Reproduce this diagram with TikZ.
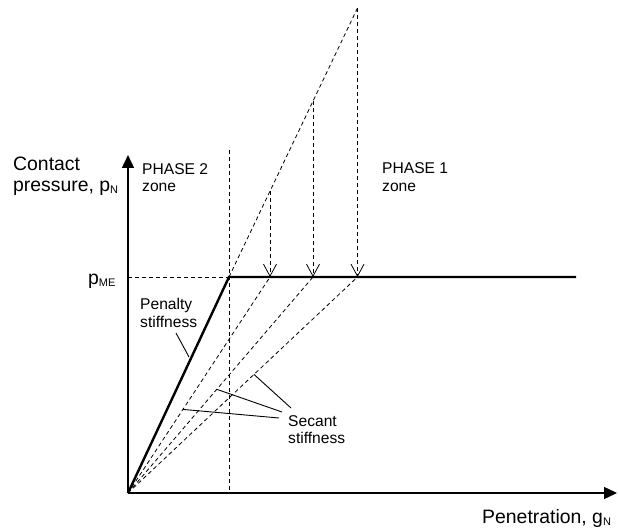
\documentclass[tikz,border=0pt]{standalone}
\usepackage{fontspec}
\setmainfont{Liberation Sans}
\usetikzlibrary{arrows.meta,calc}
\newcommand{\sbs}[1]{\raisebox{-2pt}{\fontsize{11}{11}\selectfont #1}}
\tikzset{
  lbl/.style={font=\fontsize{15.6}{18}\selectfont, inner sep=0pt, anchor=base west},
  axlbl/.style={font=\fontsize{19.4}{22}\selectfont, inner sep=0pt, anchor=base west},
  axis/.style={line width=1.4pt, -{Triangle[length=13pt,width=12pt]}},
  curve/.style={line width=2.4pt, line join=miter},
  dashline/.style={line width=0.8pt, dash pattern=on 4pt off 3pt},
  droparrow/.style={dashline, -{Straight Barb[length=12pt,width=13pt,line width=0.8pt]}},
  leader/.style={line width=0.9pt},
}
\begin{document}
\begin{tikzpicture}[x=1pt,y=-1pt]
\useasboundingbox (0,0) rectangle (618,529);
% key points
\coordinate (O) at (128,493);
\coordinate (ytop) at (128,155);
\coordinate (xend) at (617,493);
\coordinate (K) at (229,277);
\coordinate (pme) at (128,277);
\coordinate (plend) at (576,277);
\coordinate (vtop) at (229,150);
\coordinate (vbot) at (229,493);
\coordinate (t1) at (270,191);
\coordinate (t2) at (313,101);
\coordinate (t3) at (357.5,8);
\coordinate (s1) at (270,277);
\coordinate (s2) at (313,277);
\coordinate (s3) at (357.5,277);
% dashed construction lines
\draw[dashline] (pme) -- (K);
\draw[dashline] (vtop) -- (vbot);
\draw[dashline] (K) -- (t3);
\draw[dashline] (O) -- (s1);
\draw[dashline] (O) -- (s2);
\draw[dashline] (O) -- (s3);
\draw[droparrow] (t1) -- (s1);
\draw[droparrow] (t2) -- (s2);
\draw[droparrow] (t3) -- (s3);
% material curve
\draw[curve] (O) -- (K) -- (plend);
% axes
\draw[axis] (O) -- (ytop);
\draw[axis] (O) -- (xend);
% labels
\node[axlbl] (cont1) at (13,171) {Contact};
\node[axlbl] (cont2) at (13,192) {pressure, p\sbs{N}};
\node[axlbl] (pmelbl) at (88,284) {p\sbs{ME}};
\node[lbl] (ph2a) at (142,175) {PHASE 2};
\node[lbl] (ph2b) at (142,192) {zone};
\node[lbl] (ph1a) at (382,174) {PHASE 1};
\node[lbl] (ph1b) at (382,192) {zone};
\node[lbl] (pen1) at (140,309) {Penalty};
\node[lbl] (pen2) at (140,327) {stiffness};
\node[lbl] (sec1) at (288,426) {Secant};
\node[lbl] (sec2) at (288,443) {stiffness};
\node[axlbl] (xlbl) at (482,523) {Penetration, g\sbs{N}};
% leaders
\coordinate (penl) at (176,333);
\coordinate (penr) at (189,357);
\draw[leader] (penl) -- (penr);
\coordinate (l1a) at ($(O)!0.387!(s1)$);
\coordinate (l2a) at ($(O)!0.48!(s2)$);
\coordinate (l3a) at ($(O)!0.549!(s3)$);
\coordinate (l1b) at (279,418);
\coordinate (l2b) at (282,412);
\coordinate (l3b) at (291,408);
\draw[leader] (l1a) -- (l1b);
\draw[leader] (l2a) -- (l2b);
\draw[leader] (l3a) -- (l3b);
\end{tikzpicture}
\end{document}
